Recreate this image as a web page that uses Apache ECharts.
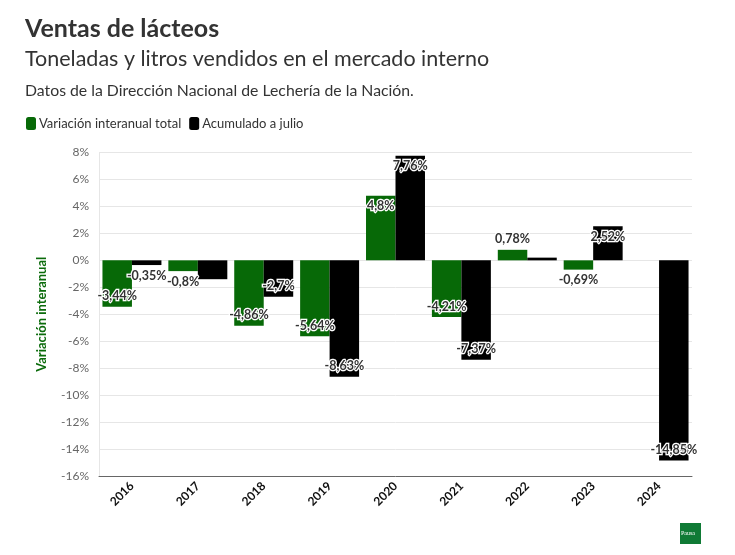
<!DOCTYPE html>
<html><head><meta charset="utf-8">
<script src="https://cdn.jsdelivr.net/npm/echarts@6/dist/echarts.min.js"></script>
<style>html,body{margin:0;padding:0;background:#fff}#c{width:735px;height:555px}</style>
</head><body><div id="c"></div>
<script>
const categories = ['2016','2017','2018','2019','2020','2021','2022','2023','2024'];
const totalVar = [-3.44, -0.8, -4.86, -5.64, 4.8, -4.21, 0.78, -0.69, null];
const julyAcc = [-0.35, -1.4, -2.7, -8.63, 7.76, -7.37, 0.2, 2.52, -14.85];
const julyHiddenLabels = ['2017', '2022'];
const yTicks = { min: -16, max: 8, interval: 2 };

const FONT = 'Lato, "Noto Sans", sans-serif';
const fmt = v => String(v).replace('.', ',') + '%';
function mk(vals, hidden) {
  return vals.map((v, i) => {
    if (v === null) return null;
    const inside = Math.abs(v) > 1.5;
    return {
      value: v,
      label: {
        show: !(hidden && hidden.includes(categories[i])),
        position: inside ? (v >= 0 ? 'insideTop' : 'insideBottom') : (v >= 0 ? 'top' : 'bottom')
      }
    };
  });
}
const labelStyle = {
  formatter: p => fmt(p.value),
  fontFamily: FONT, fontSize: 12.5, fontWeight: 'bold', color: '#333',
  textBorderColor: '#fff', textBorderWidth: 2.5, distance: 4
};
const chart = echarts.init(document.getElementById('c'), null, { renderer: 'canvas' });
chart.setOption({
  animation: false,
  textStyle: { fontFamily: FONT },
  title: [
    { text: 'Ventas de lácteos', left: 25, top: 16, padding: 0, textStyle: { fontFamily: FONT, fontSize: 25, fontWeight: 'bold', color: '#333' } },
    { text: 'Toneladas y litros vendidos en el mercado interno', left: 25, top: 48, padding: 0, textStyle: { fontFamily: FONT, fontSize: 21.5, fontWeight: 'normal', color: '#333' } },
    { text: 'Datos de la Dirección Nacional de Lechería de la Nación.', left: 25, top: 83, padding: 0, textStyle: { fontFamily: FONT, fontSize: 15.8, fontWeight: 'normal', color: '#333' } }
  ],
  legend: {
    left: 26, top: 117, padding: 0, itemWidth: 10, itemHeight: 13, itemGap: 8, icon: 'roundRect',
    textStyle: { fontFamily: FONT, fontSize: 13, color: '#333', padding: [0, 0, 0, -2] },
    data: ['Variación interanual total', 'Acumulado a julio']
  },
  grid: { left: 99, right: 43, top: 152.5, bottom: 79 },
  xAxis: {
    type: 'category', data: categories,
    axisLine: { onZero: false, lineStyle: { color: '#666', width: 1 } },
    axisTick: { show: false },
    axisLabel: { rotate: 45, fontFamily: FONT, fontSize: 12, fontWeight: 'bold', color: '#111', margin: 8 }
  },
  yAxis: {
    type: 'value', min: yTicks.min, max: yTicks.max, interval: yTicks.interval,
    name: 'Variación interanual', nameLocation: 'middle', nameGap: 51,
    nameTextStyle: { fontFamily: FONT, fontSize: 13, fontWeight: 'bold', color: '#0b6b0b' },
    axisLine: { show: true, lineStyle: { color: '#e6e6e6' } },
    axisTick: { show: false },
    splitLine: { lineStyle: { color: '#e6e6e6' } },
    axisLabel: { formatter: v => v + '%', fontFamily: FONT, fontSize: 12, color: '#666', margin: 10 }
  },
  series: [
    { name: 'Variación interanual total', type: 'bar', data: mk(totalVar), itemStyle: { color: '#076907' },
      barGap: '0%', barCategoryGap: '10.5%', label: labelStyle },
    { name: 'Acumulado a julio', type: 'bar', data: mk(julyAcc, julyHiddenLabels), itemStyle: { color: '#000' },
      barGap: '0%', barCategoryGap: '10.5%', label: labelStyle }
  ],
  graphic: [
    { type: 'rect', left: 680, top: 523, shape: { width: 21, height: 21 }, style: { fill: '#0f7a35' } },
    { type: 'text', left: 681, top: 530, style: { text: 'Pausa', fill: '#fff', font: '6px serif' } }
  ]
});
</script></body></html>
